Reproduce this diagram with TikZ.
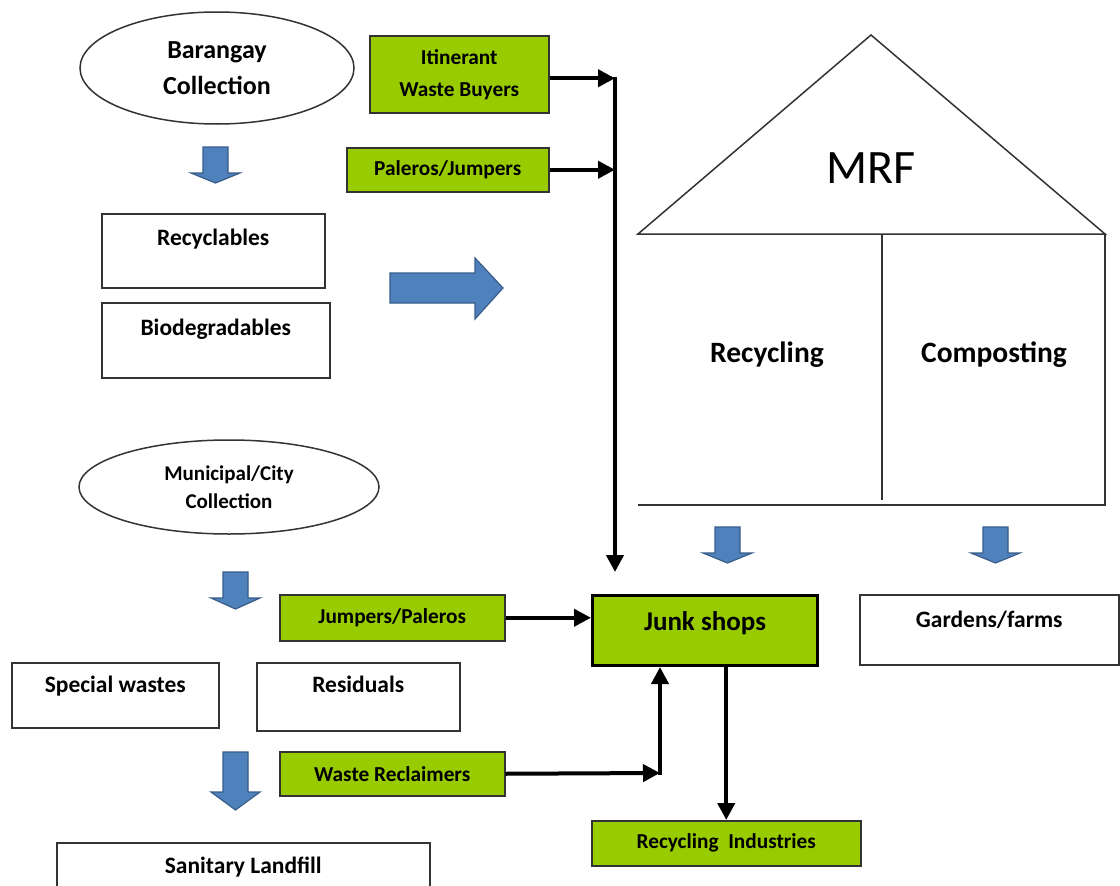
\documentclass[tikz,border=0pt]{standalone}
\usepackage{fontspec}
\setmainfont{Carlito}
\usetikzlibrary{arrows.meta,shapes.geometric}
\definecolor{lgreen}{HTML}{99CC00}
\definecolor{bblue}{HTML}{4F81BD}
\definecolor{bbord}{HTML}{385D8A}
\definecolor{bline}{HTML}{333333}
\newcommand{\bdown}[4]{%
  \filldraw[barrow] (#1-12.5,#2) -- (#1+12.5,#2) -- (#1+12.5,#3) -- (#1+24.5,#3) -- (#1,#4) -- (#1-24.5,#3) -- (#1-12.5,#3) -- cycle;}
\begin{document}
\begin{tikzpicture}[x=1pt,y=-1pt,
  wbox/.style={draw=bline, line width=1.5pt, fill=white, inner sep=0pt, anchor=north west},
  gbox/.style={draw=bline, line width=1.5pt, fill=lgreen, inner sep=0pt, anchor=north west, align=center},
  ell/.style={ellipse, draw=bline, line width=1.5pt, inner sep=0pt, align=center},
  lbl/.style={anchor=base, font=\bfseries\fontsize{23.5}{28}\selectfont},
  gtxt/.style={font=\bfseries\fontsize{21.3}{32}\selectfont},
  conn/.style={line width=4pt, -{Triangle[length=17pt,width=17pt]}},
  barrow/.style={fill=bblue, draw=bbord, line width=1.2pt, line join=miter},
  mrfline/.style={draw=bline, line width=1.5pt},
]
\useasboundingbox (0,0) rectangle (1120,886);
\clip (0,0) rectangle (1120,886);
\fill[white] (0,0) rectangle (1120,886);

% Barangay side
\node[ell, minimum width=274pt, minimum height=112pt, font=\bfseries\fontsize{26}{36}\selectfont] (bar) at (217,68) {Barangay\\Collection};
\node[gbox, gtxt, minimum width=179pt, minimum height=77pt] (iwb) at (369,35) {Itinerant\\Waste Buyers};
\node[gbox, gtxt, minimum width=202pt, minimum height=44pt] (pj) at (346,147) {Paleros/Jumpers};
\node[wbox, minimum width=223pt, minimum height=74pt, label={[lbl, yshift=-32pt]north:Recyclables}] (rec) at (101,213) {};
\node[wbox, minimum width=228pt, minimum height=75pt, label={[lbl, yshift=-33pt]north:Biodegradables}] (bio) at (101,302) {};

% Municipal side
\node[ell, minimum width=300pt, minimum height=94pt, font=\bfseries\fontsize{21}{28}\selectfont] (mun) at (229,487) {Municipal/City\\Collection};
\node[gbox, gtxt, minimum width=225pt, minimum height=46pt] (jp) at (279,594) {Jumpers/Paleros};
\node[wbox, minimum width=207pt, minimum height=65pt, label={[lbl, yshift=-30pt]north:Special wastes}] (spw) at (11,662) {};
\node[wbox, minimum width=203pt, minimum height=68pt, label={[lbl, yshift=-30pt]north:Residuals}] (res) at (256,662) {};
\node[gbox, gtxt, minimum width=225pt, minimum height=44pt] (wr) at (279,751) {Waste Reclaimers};
\node[wbox, minimum width=373pt, minimum height=70pt, label={[lbl, yshift=-31pt]north:Sanitary Landfill}] (sl) at (56,842) {};

% Right side
\node[draw=black, line width=3pt, fill=lgreen, inner sep=0pt, anchor=north west, minimum width=225pt, minimum height=70pt,
  label={[anchor=base, yshift=-36pt, font=\bfseries\fontsize{27}{32}\selectfont]north:Junk shops}] (junk) at (591,594) {};
\node[wbox, minimum width=259pt, minimum height=70pt, label={[lbl, yshift=-33pt]north:Gardens/farms}] (gar) at (859,594) {};
\node[gbox, gtxt, minimum width=269pt, minimum height=45pt] (ri) at (591,820) {Recycling~~Industries};

% MRF house
\draw[mrfline] (638,234) -- (871,35) -- (1105,234) -- cycle;
\draw[mrfline] (1105,234) -- (1105,505) -- (638,505);
\draw[mrfline] (882,234) -- (882,500);
\node[anchor=base, font=\fontsize{48}{56}\selectfont] (mrf) at (871,183) {MRF};
\node[anchor=base, font=\bfseries\fontsize{29.5}{34}\selectfont] (recy) at (767,362) {Recycling};
\node[anchor=base, font=\bfseries\fontsize{29.5}{34}\selectfont] (comp) at (994,362) {Composting};

% Blue arrows
\bdown{215.5}{147}{173}{183}
\bdown{235.5}{572}{598}{609}
\bdown{235.5}{752}{792}{810}
\bdown{727.5}{527}{553}{563}
\bdown{995.5}{527}{553}{563}
\filldraw[barrow] (390,273) -- (475,273) -- (475,258) -- (503,288) -- (475,319) -- (475,303) -- (390,303) -- cycle;

% Connectors
\coordinate (v1) at (615,77);
\coordinate (v2) at (615,572);
\coordinate (c1) at (660,773);
\draw[conn] ([yshift=-4pt]iwb.east) -- ([yshift=-4pt]iwb.east -| v1);
\draw[conn] (pj.east) -- (pj.east -| v1);
\draw[conn] (v1) -- (v2);
\draw[conn] (jp.east) -- (jp.east -| junk.west);
\draw[conn] (wr.east) -- (c1);
\draw[conn] ([yshift=-2pt]c1) -- (c1 |- junk.south);
\draw[conn] (junk.south -| ri.north) -- (ri.north);
\end{tikzpicture}
\end{document}
